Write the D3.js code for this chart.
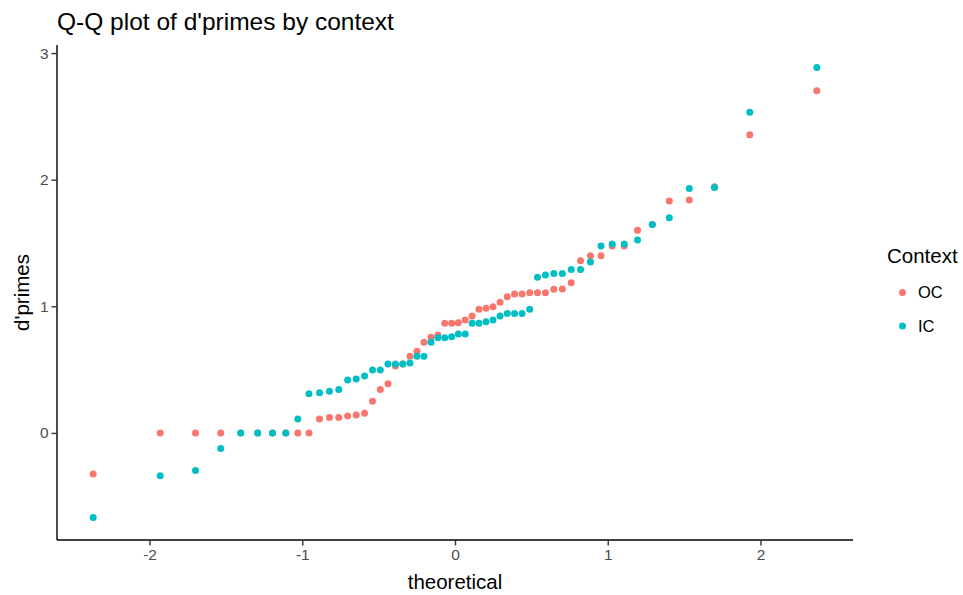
<!DOCTYPE html>
<meta charset="utf-8">
<style>
  body { margin: 0; background: #fff; }
  text { font-family: "Liberation Sans", Arial, sans-serif; }
</style>

<!-- Load d3.js -->
<script src="https://d3js.org/d3.v7.min.js"></script>

<div id="my_dataviz"></div>

<script>

// theoretical normal quantiles (shared by both groups, 56 points each)
var theoretical = [-2.369, -1.930, -1.699, -1.534, -1.403, -1.292, -1.195, -1.108, -1.029, -0.956,
  -0.887, -0.822, -0.761, -0.703, -0.647, -0.592, -0.540, -0.489, -0.439, -0.390,
  -0.342, -0.295, -0.249, -0.203, -0.157, -0.112, -0.067, -0.022, 0.022, 0.067,
  0.112, 0.157, 0.203, 0.249, 0.295, 0.342, 0.390, 0.439, 0.489, 0.540,
  0.592, 0.647, 0.703, 0.761, 0.822, 0.887, 0.956, 1.029, 1.108, 1.195,
  1.292, 1.403, 1.534, 1.699, 1.930, 2.369];

// sorted d'primes, out of context (OC)
var ocValues = [-0.324, 0, 0, 0, 0, 0, 0, 0, 0, 0,
  0.110, 0.121, 0.121, 0.134, 0.142, 0.155, 0.250, 0.342, 0.389, 0.529,
  0.545, 0.605, 0.645, 0.716, 0.755, 0.773, 0.866, 0.866, 0.870, 0.892,
  0.923, 0.976, 0.984, 0.997, 1.032, 1.076, 1.097, 1.097, 1.107, 1.107,
  1.107, 1.134, 1.137, 1.186, 1.360, 1.400, 1.400, 1.476, 1.476, 1.600,
  1.647, 1.831, 1.839, 1.944, 2.354, 2.702];

// sorted d'primes, in context (IC)
var icValues = [-0.668, -0.339, -0.297, -0.124, 0, 0, 0, 0, 0.110, 0.310,
  0.318, 0.329, 0.342, 0.418, 0.426, 0.450, 0.497, 0.497, 0.545, 0.545,
  0.545, 0.553, 0.605, 0.605, 0.716, 0.752, 0.752, 0.760, 0.781, 0.781,
  0.866, 0.866, 0.878, 0.892, 0.923, 0.944, 0.944, 0.944, 0.976, 1.229,
  1.247, 1.260, 1.260, 1.290, 1.290, 1.350, 1.476, 1.492, 1.492, 1.523,
  1.647, 1.699, 1.930, 1.938, 2.533, 2.886];

var groups = ["OC", "IC"];
var xTicks = [-2, -1, 0, 1, 2];
var yTicks = [0, 1, 2, 3];

var width = 963, height = 595;
var panel = {left: 57, right: 853, top: 45, bottom: 540};

var svg = d3.select("#my_dataviz")
  .append("svg")
    .attr("width", width)
    .attr("height", height);

// build rows for drawing
var data = [];
ocValues.forEach(function (v, i) { data.push({Context: "OC", theoretical: theoretical[i], dprime: v}); });
icValues.forEach(function (v, i) { data.push({Context: "IC", theoretical: theoretical[i], dprime: v}); });

// ggplot style 5% expansion
var xExt = d3.extent(theoretical);
var xPad = (xExt[1] - xExt[0]) * 0.05;
var yExt = d3.extent(data, function (d) { return d.dprime; });
var yPad = (yExt[1] - yExt[0]) * 0.05;

var x = d3.scaleLinear()
  .domain([xExt[0] - xPad, xExt[1] + xPad])
  .range([panel.left, panel.right]);

var y = d3.scaleLinear()
  .domain([yExt[0] - yPad, yExt[1] + yPad])
  .range([panel.bottom, panel.top]);

var color = d3.scaleOrdinal()
  .domain(groups)
  .range(["#F8766D", "#00BFC4"]);

// plain hyphen for negatives, like R
var fmt = function (d) { return String(d); };

// X axis
var xAxis = svg.append("g")
  .attr("transform", "translate(0," + panel.bottom + ")")
  .call(d3.axisBottom(x).tickValues(xTicks).tickSize(5.5).tickPadding(3).tickFormat(fmt));

// Y axis
var yAxis = svg.append("g")
  .attr("transform", "translate(" + panel.left + ",0)")
  .call(d3.axisLeft(y).tickValues(yTicks).tickSize(5.5).tickPadding(3).tickFormat(fmt));

[xAxis, yAxis].forEach(function (g) {
  g.select(".domain").attr("stroke", "#000").attr("stroke-width", 1.4);
  g.selectAll(".tick line").attr("stroke", "#333").attr("stroke-width", 1.4);
  g.selectAll(".tick text")
    .attr("fill", "#4D4D4D")
    .style("font-size", "15.5px");
});
xAxis.select(".domain").attr("d", "M" + panel.left + ",0H" + panel.right);
yAxis.select(".domain").attr("d", "M0," + panel.bottom + "V" + panel.top);

// points: OC first, IC on top
svg.append("g")
  .selectAll("circle")
  .data(data)
  .enter()
  .append("circle")
    .attr("cx", function (d) { return x(d.theoretical); })
    .attr("cy", function (d) { return y(d.dprime); })
    .attr("r", 3.5)
    .style("fill", function (d) { return color(d.Context); });

// title and axis titles
svg.append("text")
  .attr("x", panel.left)
  .attr("y", 30)
  .style("font-size", "24.5px")
  .text("Q-Q plot of d'primes by context");

svg.append("text")
  .attr("x", (panel.left + panel.right) / 2)
  .attr("y", 589)
  .attr("text-anchor", "middle")
  .style("font-size", "20.5px")
  .text("theoretical");

svg.append("text")
  .attr("transform", "translate(29," + (panel.top + panel.bottom) / 2 + ") rotate(-90)")
  .attr("text-anchor", "middle")
  .style("font-size", "20.5px")
  .text("d'primes");

// legend
svg.append("text")
  .attr("x", 887)
  .attr("y", 263)
  .style("font-size", "20.5px")
  .text("Context");

var legend = svg.selectAll("mylegend")
  .data(groups)
  .enter()
  .append("g")
    .attr("transform", function (d, i) { return "translate(0," + (292.5 + i * 33.5) + ")"; });

legend.append("circle")
  .attr("cx", 902.5)
  .attr("cy", 0)
  .attr("r", 3.5)
  .style("fill", function (d) { return color(d); });

legend.append("text")
  .attr("x", 918)
  .attr("y", 0)
  .attr("dy", "0.36em")
  .style("font-size", "16.5px")
  .text(function (d) { return d; });

</script>
